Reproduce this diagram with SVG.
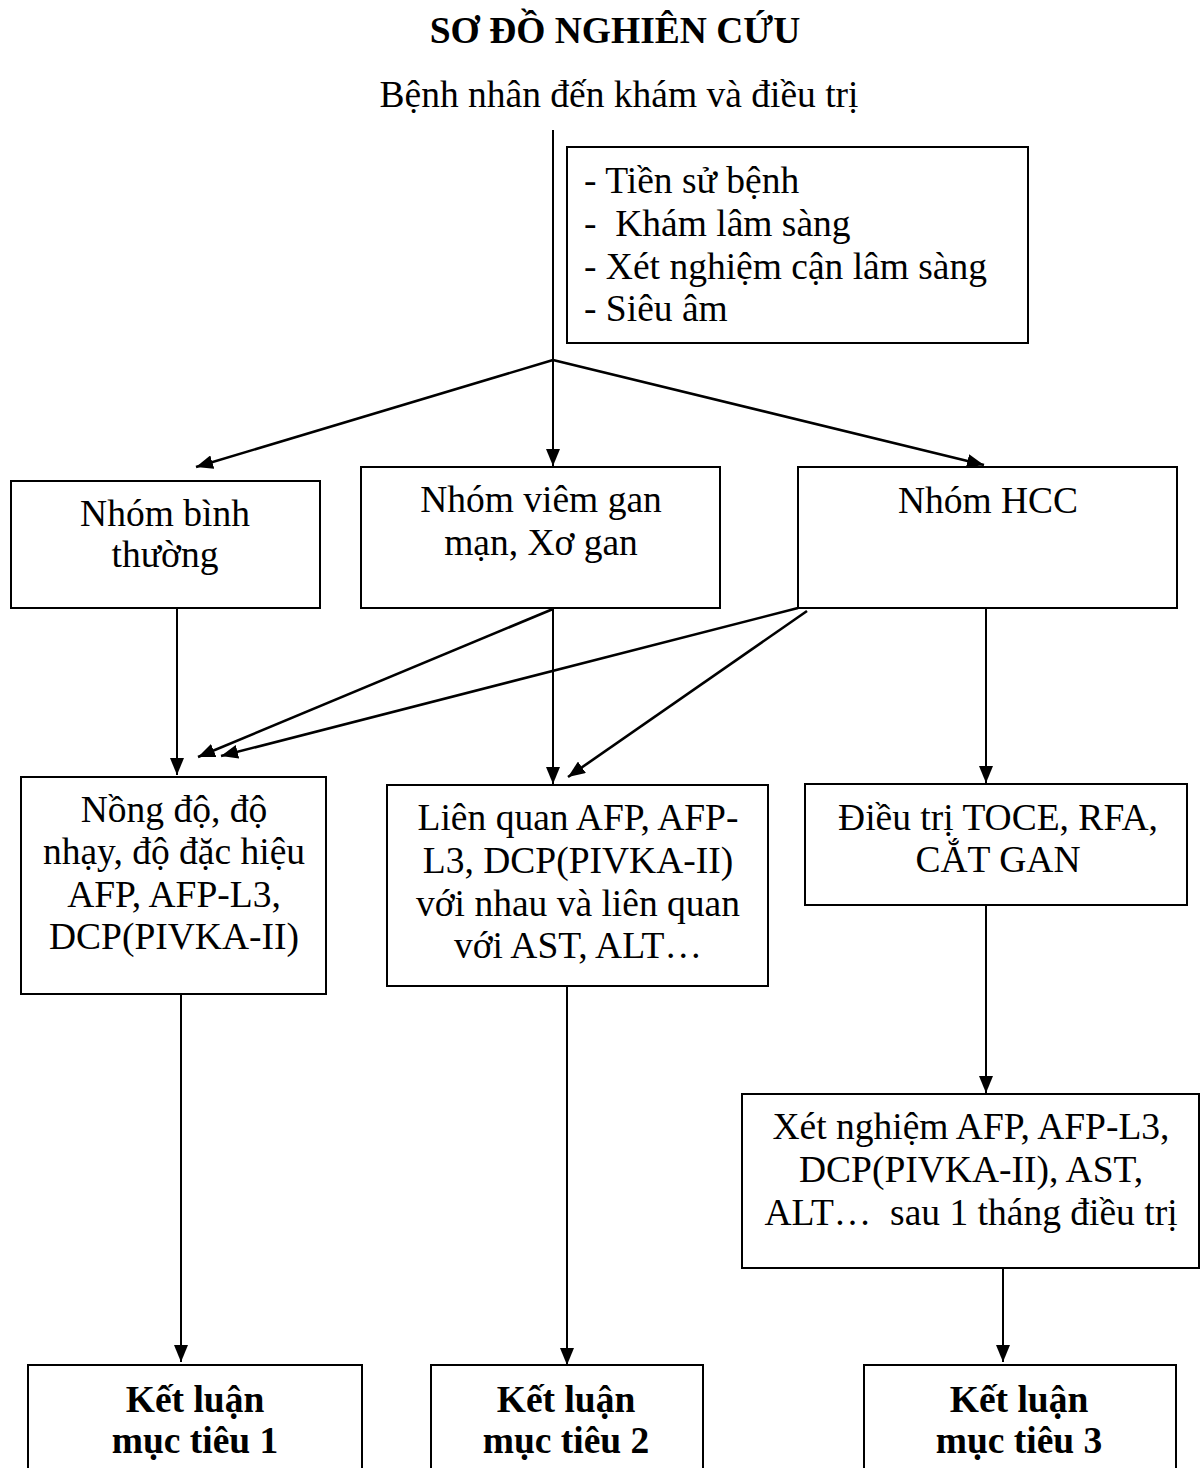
<svg xmlns="http://www.w3.org/2000/svg" width="1201" height="1468" viewBox="0 0 1201 1468">
<style>
text{font-family:"Liberation Serif","Times New Roman",serif;font-size:37.5px;fill:#000}
.c{text-anchor:middle}
.b{font-weight:bold}
.box{fill:#fff;stroke:#000;stroke-width:2}
.ln{fill:none;stroke:#000;stroke-width:2}
.dg{fill:none;stroke:#000;stroke-width:2.6}
</style>
<defs>
<marker id="ah" markerUnits="userSpaceOnUse" markerWidth="18" markerHeight="14" refX="17" refY="7" orient="auto">
<path d="M0,0 L17,7 L0,14 Z" fill="#000"/>
</marker>
</defs>
<rect width="1201" height="1468" fill="#fff"/>
<g id="title">
<text class="c b" x="615" y="43">SƠ ĐỒ NGHIÊN CỨU</text>
</g>
<g id="start">
<text class="c" x="619" y="107">Bệnh nhân đến khám và điều trị</text>
</g>
<g id="connectors">
<line class="ln" x1="553" y1="130" x2="553" y2="466" marker-end="url(#ah)"/>
<line class="dg" x1="553" y1="360" x2="196" y2="467" marker-end="url(#ah)"/>
<line class="dg" x1="553" y1="360" x2="984" y2="465" marker-end="url(#ah)"/>
<line class="ln" x1="177" y1="609" x2="177" y2="775" marker-end="url(#ah)"/>
<line class="dg" x1="553" y1="609" x2="198" y2="757" marker-end="url(#ah)"/>
<line class="dg" x1="798" y1="608" x2="221" y2="756" marker-end="url(#ah)"/>
<line class="ln" x1="553" y1="609" x2="553" y2="784" marker-end="url(#ah)"/>
<line class="dg" x1="807" y1="611" x2="568" y2="777" marker-end="url(#ah)"/>
<line class="ln" x1="986" y1="609" x2="986" y2="783" marker-end="url(#ah)"/>
<line class="ln" x1="181" y1="995" x2="181" y2="1362" marker-end="url(#ah)"/>
<line class="ln" x1="567" y1="987" x2="567" y2="1365" marker-end="url(#ah)"/>
<line class="ln" x1="986" y1="906" x2="986" y2="1093" marker-end="url(#ah)"/>
<line class="ln" x1="1003" y1="1269" x2="1003" y2="1362" marker-end="url(#ah)"/>
</g>
<g id="info">
<rect class="box" x="567" y="147" width="461" height="196"/>
<text x="584" y="193">- Tiền sử bệnh</text>
<text x="584" y="236" xml:space="preserve">-  Khám lâm sàng</text>
<text x="584" y="279">- Xét nghiệm cận lâm sàng</text>
<text x="584" y="321">- Siêu âm</text>
</g>
<g id="normal">
<rect class="box" x="11" y="481" width="309" height="127"/>
<text class="c" x="165" y="526">Nhóm bình</text>
<text class="c" x="165" y="567">thường</text>
</g>
<g id="hepatitis">
<rect class="box" x="361" y="467" width="359" height="141"/>
<text class="c" x="541" y="512">Nhóm viêm gan</text>
<text class="c" x="541" y="555">mạn, Xơ gan</text>
</g>
<g id="hcc">
<rect class="box" x="798" y="467" width="379" height="141"/>
<text class="c" x="988" y="513">Nhóm HCC</text>
</g>
<g id="conc">
<rect class="box" x="21" y="777" width="305" height="217"/>
<text class="c" x="174" y="822">Nồng độ, độ</text>
<text class="c" x="174" y="864">nhạy, độ đặc hiệu</text>
<text class="c" x="174" y="907">AFP, AFP-L3,</text>
<text class="c" x="174" y="949">DCP(PIVKA-II)</text>
</g>
<g id="relation">
<rect class="box" x="387" y="785" width="381" height="201"/>
<text class="c" x="578" y="830">Liên quan AFP, AFP-</text>
<text class="c" x="578" y="873">L3, DCP(PIVKA-II)</text>
<text class="c" x="578" y="916">với nhau và liên quan</text>
<text class="c" x="578" y="958">với AST, ALT…</text>
</g>
<g id="treatment">
<rect class="box" x="805" y="784" width="382" height="121"/>
<text class="c" x="998" y="830">Điều trị TOCE, RFA,</text>
<text class="c" x="998" y="872">CẮT GAN</text>
</g>
<g id="followup">
<rect class="box" x="742" y="1094" width="457" height="174"/>
<text class="c" x="971" y="1139">Xét nghiệm AFP, AFP-L3,</text>
<text class="c" x="971" y="1182">DCP(PIVKA-II), AST,</text>
<text class="c" x="971" y="1225" xml:space="preserve">ALT…  sau 1 tháng điều trị</text>
</g>
<g id="goal1">
<rect class="box" x="28" y="1365" width="334" height="120"/>
<text class="c b" x="195" y="1412">Kết luận</text>
<text class="c b" x="195" y="1453">mục tiêu 1</text>
</g>
<g id="goal2">
<rect class="box" x="431" y="1365" width="272" height="120"/>
<text class="c b" x="566" y="1412">Kết luận</text>
<text class="c b" x="566" y="1453">mục tiêu 2</text>
</g>
<g id="goal3">
<rect class="box" x="864" y="1365" width="312" height="120"/>
<text class="c b" x="1019" y="1412">Kết luận</text>
<text class="c b" x="1019" y="1453">mục tiêu 3</text>
</g>
</svg>
